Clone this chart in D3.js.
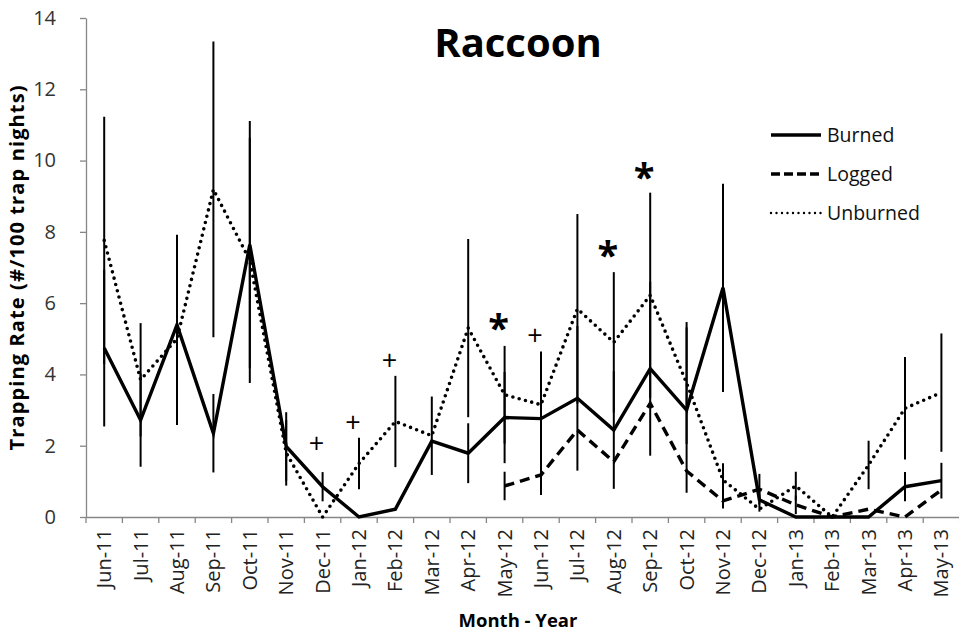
<!DOCTYPE html>
<html lang="en">
<head>
<meta charset="UTF-8">
<title>Raccoon</title>
<script src="https://cdn.jsdelivr.net/npm/d3@7"></script>
<style>
    body{ margin:0; background:#fff; }
    text{ font-family:"Open Sans","Liberation Sans",sans-serif; }
    .axis path, .axis line{ stroke:#868686; stroke-width:1.3px; }
</style>
</head>
<body>
<svg id="chart" width="959" height="634"></svg>
<script>
    // months on the x axis
    let months = ["Jun-11","Jul-11","Aug-11","Sep-11","Oct-11","Nov-11","Dec-11","Jan-12",
        "Feb-12","Mar-12","Apr-12","May-12","Jun-12","Jul-12","Aug-12","Sep-12",
        "Oct-12","Nov-12","Dec-12","Jan-13","Feb-13","Mar-13","Apr-13","May-13"]

    // trapping rate per series
    let burned = [4.74,2.72,5.39,2.35,7.64,1.98,0.85,0,0.22,2.13,1.79,2.79,
        2.76,3.33,2.44,4.16,3.0,6.43,0.48,0,0,0,0.85,1.02]
    let logged = [null,null,null,null,null,null,null,null,null,null,null,0.87,
        1.18,2.44,1.55,3.19,1.29,0.45,0.78,0.34,0,0.22,0,0.76]
    let unburned = [7.76,3.85,5.0,9.19,7.2,1.8,0,1.5,2.68,2.28,5.3,3.43,
        3.15,5.84,4.9,6.22,3.76,1.04,0.22,0.87,0,1.46,3.05,3.49]

    // error bar half-widths
    let burnedErr = [2.2,1.31,2.53,1.1,3.47,0.96,0.41,null,null,null,0.84,1.28,
        1.2,2.03,1.65,2.44,2.32,2.92,0.33,null,null,null,0.41,0.5]
    let loggedErr = [null,null,null,null,null,null,null,null,null,null,null,0.4,
        0.56,null,null,null,null,0.21,0.43,0.26,null,null,null,null]
    let unburnedErr = [3.47,1.59,2.42,4.15,3.44,0.92,null,0.72,1.28,1.1,2.5,1.37,
        1.49,2.66,1.97,2.88,1.71,0.47,null,0.4,null,0.68,1.44,1.66]

    // significance marks
    let markMonths = ["Dec-11","Jan-12","Feb-12","May-12","Jun-12","Aug-12","Sep-12"]
    let markSymbols = ["+","+","+","*","+","*","*"]
    let markValues = [2.07,2.65,4.41,5.44,5.09,7.5,9.67]

    let yTicks = [0,2,4,6,8,10,12,14]
    let seriesNames = ["Burned","Logged","Unburned"]

    let svg = d3.select("#chart")
    let mLeft = 86, mRight = 959.6, mTop = 18, mBottom = 517

    let x = d3.scaleBand().domain(months).range([mLeft, mRight]).padding(0)
    let y = d3.scaleLinear().domain([0, 14]).range([mBottom, mTop])
    let cx = m => x(m) + x.bandwidth() / 2

    // axes
    svg.append("g")
        .attr("class","axis")
        .attr("transform","translate(" + mLeft + ",0)")
        .call(d3.axisLeft(y).tickValues(yTicks).tickSize(6).tickPadding(24).tickSizeOuter(0))
        .call(g => g.selectAll("text").attr("font-size","20px").attr("fill","#333"))

    let xAxis = svg.append("g")
        .attr("class","axis")
        .attr("transform","translate(0," + mBottom + ")")
        .call(d3.axisBottom(x).tickSize(0).tickSizeOuter(0))
    xAxis.selectAll("text")
        .attr("font-size","20px")
        .attr("fill","#222")
        .attr("text-anchor","end")
        .attr("transform","rotate(-90)")
        .attr("x",-12)
        .attr("y",0)
        .attr("dy","0.35em")
    // category boundary ticks
    xAxis.selectAll(".sep")
        .data(d3.range(months.length + 1))
        .join("line")
        .attr("x1", i => mLeft + i * x.step())
        .attr("x2", i => mLeft + i * x.step())
        .attr("y1", 0).attr("y2", 6)
        .attr("stroke","#868686").attr("stroke-width",1.3)

    // error bars
    let errSets = [[burned, burnedErr],[logged, loggedErr],[unburned, unburnedErr]]
    errSets.forEach(function (s) {
        let vals = s[0], errs = s[1]
        svg.append("g").selectAll("line")
            .data(months.filter((m, i) => errs[i] != null && vals[i] != null))
            .join("line")
            .attr("x1", m => cx(m)).attr("x2", m => cx(m))
            .attr("y1", m => y(vals[months.indexOf(m)] - errs[months.indexOf(m)]))
            .attr("y2", m => y(vals[months.indexOf(m)] + errs[months.indexOf(m)]))
            .attr("stroke","#000").attr("stroke-width",2)
    })

    // lines
    let styles = {
        Burned: {dash: null, cap: "butt"},
        Logged: {dash: "10,6", cap: "butt"},
        Unburned: {dash: "0,6.5", cap: "round"}
    }
    let seriesData = {Burned: burned, Logged: logged, Unburned: unburned}

    let line = d3.line()
        .defined(d => d[1] != null)
        .x(d => cx(d[0]))
        .y(d => y(d[1]))

    seriesNames.forEach(function (name) {
        let vals = seriesData[name]
        svg.append("path")
            .datum(months.map((m, i) => [m, vals[i]]))
            .attr("d", line)
            .attr("fill","none")
            .attr("stroke","#000")
            .attr("stroke-width", name === "Unburned" ? 3.6 : 3.4)
            .attr("stroke-linejoin","miter")
            .attr("stroke-linecap", styles[name].cap)
            .attr("stroke-dasharray", styles[name].dash)
    })

    // significance marks
    svg.append("g").selectAll("text")
        .data(markMonths)
        .join("text")
        .attr("x", m => cx(m) - 6)
        .attr("y", (m, i) => y(markValues[i]))
        .attr("dy", (m, i) => markSymbols[i] === "*" ? "0.5em" : "0.36em")
        .attr("text-anchor","middle")
        .attr("font-size", (m, i) => markSymbols[i] === "*" ? "38px" : "27px")
        .attr("font-weight", (m, i) => markSymbols[i] === "*" ? "bold" : "normal")
        .attr("fill","#000")
        .text((m, i) => markSymbols[i])

    // legend
    let legend = svg.append("g").attr("transform","translate(771,135)")
    seriesNames.forEach(function (name, i) {
        legend.append("line")
            .attr("x1",0).attr("x2",50)
            .attr("y1", i * 39).attr("y2", i * 39)
            .attr("stroke","#000")
            .attr("stroke-width", name === "Unburned" ? 2.4 : 3.4)
            .attr("stroke-dasharray", name === "Logged" ? "9,4" : (name === "Unburned" ? "0,5.5" : null))
            .attr("stroke-linecap", name === "Unburned" ? "round" : "butt")
        legend.append("text")
            .attr("x",56).attr("y", i * 39)
            .attr("dy","0.35em")
            .attr("font-size","19.5px")
            .attr("fill","#111")
            .text(name)
    })

    // titles
    svg.append("text")
        .attr("x",518).attr("y",57)
        .attr("text-anchor","middle")
        .attr("font-size","40px").attr("font-weight","bold")
        .text("Raccoon")

    svg.append("text")
        .attr("x",518).attr("y",627)
        .attr("text-anchor","middle")
        .attr("font-size","18.5px").attr("font-weight","bold")
        .text("Month - Year")

    svg.append("text")
        .attr("transform","translate(24,268) rotate(-90)")
        .attr("text-anchor","middle")
        .attr("font-size","20px").attr("font-weight","bold")
        .attr("textLength",365).attr("lengthAdjust","spacing")
        .text("Trapping Rate (#/100 trap nights)")
</script>
</body>
</html>
